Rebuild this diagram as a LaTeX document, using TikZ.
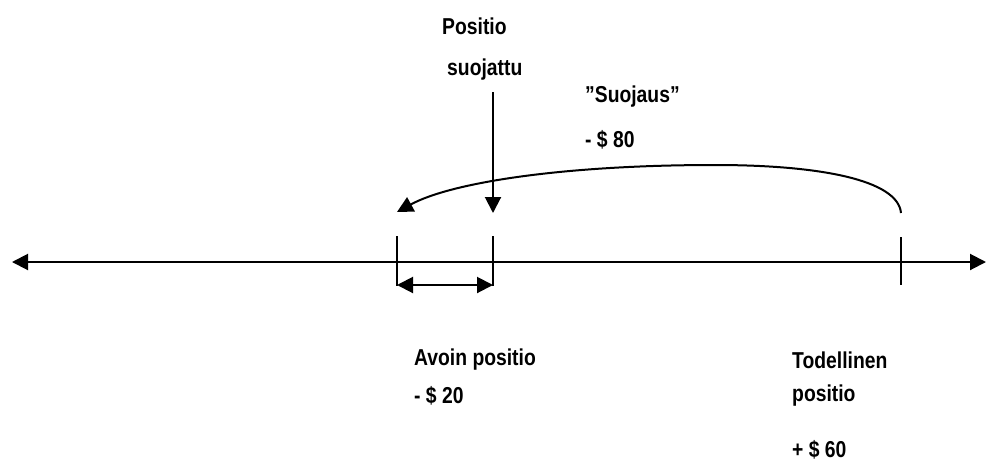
\documentclass[tikz,border=0pt]{standalone}
\usepackage{fontspec}
\setmainfont{Liberation Sans}[FakeStretch=0.84]
\usetikzlibrary{arrows.meta}
\begin{document}
\begin{tikzpicture}[x=1pt,y=-1pt,
  ln/.style={line width=2pt},
  hd/.tip={Triangle[length=16pt,width=16pt]},
  tip/.style={-hd},
  lbl/.style={anchor=west,inner sep=0pt,font=\fontsize{23}{26}\selectfont\bfseries}]
\useasboundingbox (0,0) rectangle (998,461);
% axis
\coordinate (L) at (12,262);
\coordinate (R) at (986,262);
\draw[ln,hd-hd] (L) -- (R);
% ticks
\coordinate (t1a) at (397,236); \coordinate (t1b) at (397,286);
\coordinate (t2a) at (493,236); \coordinate (t2b) at (493,286);
\coordinate (t3a) at (901,237); \coordinate (t3b) at (901,285);
\draw[ln] (t1a) -- (t1b);
\draw[ln] (t2a) -- (t2b);
\draw[ln] (t3a) -- (t3b);
% open position double arrow
\coordinate (o1) at (397,285); \coordinate (o2) at (493,285);
\draw[ln,hd-hd] (o1) -- (o2);
% hedge curve
\coordinate (cs) at (901,213);
\coordinate (cm) at (715,165);
\coordinate (ce) at (397,212);
\draw[ln,tip] (cs) .. controls (898,180) and (820,165) .. (cm)
  .. controls (560,165) and (450,183) .. (ce);
% down arrow
\coordinate (d1) at (493,92); \coordinate (d2) at (493,213);
\draw[ln,tip] (d1) -- (d2);
% labels
\node[lbl] (p1) at (442,26) {Positio};
\node[lbl] (p2) at (447,70) {suojattu};
\node[lbl] (s1) at (585,97) {”Suojaus”};
\node[lbl] (s2) at (585,140) {- \$ 80};
\node[lbl] (a1) at (414,360) {Avoin positio};
\node[lbl] (a2) at (414,396) {- \$ 20};
\node[lbl] (b1) at (792,360) {Todellinen};
\node[lbl] (b2) at (792,396) {positio};
\node[lbl] (b3) at (792,450) {+ \$ 60};
\end{tikzpicture}
\end{document}
